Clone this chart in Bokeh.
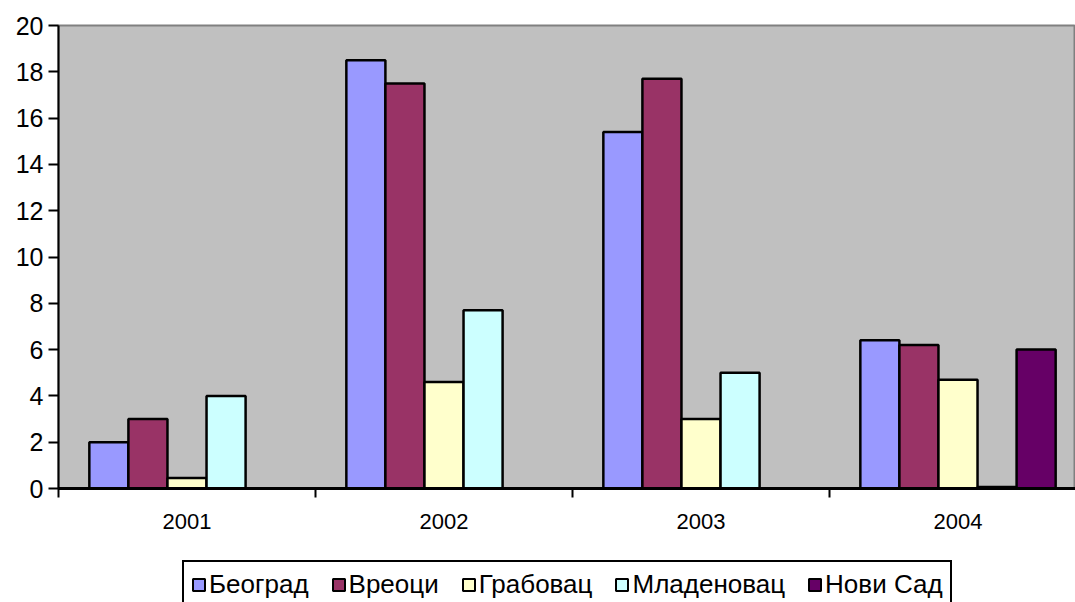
from bokeh.plotting import figure
from bokeh.layouts import column
from bokeh.models import ColumnDataSource, FixedTicker, Legend, LegendItem, Range1d
from bokeh.transform import dodge
from bokeh.embed import file_html
from bokeh.resources import INLINE

years = ["2001", "2002", "2003", "2004"]
beograd = [2.0, 18.5, 15.4, 6.4]
vreoci = [3.0, 17.5, 17.7, 6.2]
grabovac = [0.45, 4.6, 3.0, 4.7]
mladenovac = [4.0, 7.7, 5.0, 0.06]
novi_sad = [0.0, 0.0, 0.0, 6.0]

series_names = ["Београд", "Вреоци", "Грабовац", "Младеновац", "Нови Сад"]
series_values = [beograd, vreoci, grabovac, mladenovac, novi_sad]
colors = ["#9999FF", "#993366", "#FFFFCC", "#CCFFFF", "#660066"]

centers = [i + 0.5 for i in range(len(years))]
data = {"x": centers}
for i, vals in enumerate(series_values):
    data["s%d" % i] = vals
src = ColumnDataSource(data)

FONT = "Liberation Sans"
bw = 0.152

p = figure(width=1075, height=555, output_backend="svg", toolbar_location=None,
           x_range=Range1d(0, 1017 / 257), y_range=Range1d(0, 20),
           min_border_left=58, min_border_right=0, min_border_top=25, min_border_bottom=67)
p.background_fill_color = "#C0C0C0"
p.border_fill_color = "white"
p.outline_line_color = "#808080"
p.outline_line_width = 2
p.xgrid.visible = False
p.ygrid.visible = False

for i, name in enumerate(series_names):
    p.vbar(x=dodge("x", (i - 2) * bw, range=p.x_range), top="s%d" % i, width=bw,
           source=src, fill_color=colors[i], line_color="black", line_width=2.5)

# y axis
p.yaxis.ticker = FixedTicker(ticks=list(range(0, 21, 2)))
p.yaxis.axis_line_width = 2
p.yaxis.major_tick_line_width = 2
p.yaxis.major_tick_out = 10
p.yaxis.major_tick_in = 0
p.yaxis.minor_tick_line_color = None
p.yaxis.major_label_text_font = FONT
p.yaxis.major_label_text_font_size = "25px"
p.yaxis.major_label_text_color = "black"
p.yaxis.major_label_standoff = 5

# x axis
p.xaxis.ticker = FixedTicker(ticks=centers, minor_ticks=[0, 1, 2, 3, 4])
p.xaxis.major_label_overrides = {c: y for c, y in zip(centers, years)}
p.xaxis.axis_line_width = 3
p.xaxis.major_tick_line_color = None
p.xaxis.major_tick_out = 0
p.xaxis.major_tick_in = 0
p.xaxis.minor_tick_line_color = "black"
p.xaxis.minor_tick_line_width = 2
p.xaxis.minor_tick_out = 9
p.xaxis.minor_tick_in = 0
p.xaxis.major_label_text_font = FONT
p.xaxis.major_label_text_font_size = "22px"
p.xaxis.major_label_text_color = "black"
p.xaxis.major_label_standoff = 16

# legend strip below the chart (its renderers are hidden, only the legend shows)
p2 = figure(width=1075, height=70, output_backend="svg", toolbar_location=None,
            x_range=Range1d(0, 1017 / 257), y_range=Range1d(0, 20),
            x_axis_location=None, y_axis_location=None,
            min_border_left=58, min_border_right=0, min_border_top=0, min_border_bottom=0)
p2.xgrid.visible = False
p2.ygrid.visible = False
p2.outline_line_color = None
p2.background_fill_color = "white"
p2.border_fill_color = "white"

items = []
for i, name in enumerate(series_names):
    r = p2.vbar(x="x", top="s%d" % i, width=bw, source=src,
                fill_color=colors[i], line_color="black", line_width=2)
    r.visible = False
    items.append(LegendItem(label=name, renderers=[r]))

legend = Legend(items=items, orientation="horizontal", location=(124, 16))
legend.label_text_font = FONT
legend.label_text_font_size = "26px"
legend.label_text_color = "black"
legend.glyph_width = 15
legend.glyph_height = 15
legend.label_standoff = 3
legend.spacing = 22
legend.padding = 7
legend.margin = 0
legend.border_line_color = "black"
legend.border_line_alpha = 1
legend.border_line_width = 2
legend.background_fill_color = "white"
legend.background_fill_alpha = 1
legend.inactive_fill_alpha = 0
p2.add_layout(legend, "center")

layout = column(p, p2, spacing=0)
open("out.html", "w").write(file_html(layout, INLINE))
